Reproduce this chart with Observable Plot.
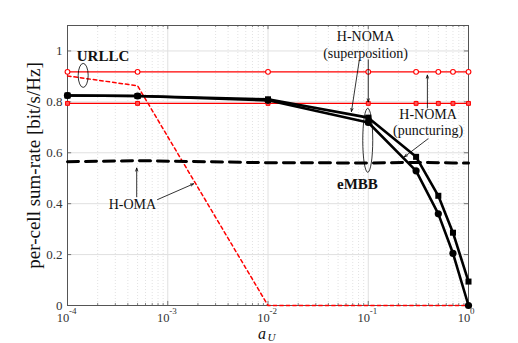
<!DOCTYPE html>
<html>
<head>
<meta charset="utf-8">
<script src="https://cdn.jsdelivr.net/npm/d3@7"></script>
<script src="https://cdn.jsdelivr.net/npm/@observablehq/plot@0.6"></script>
<style>
  html, body { margin: 0; padding: 0; background: #fff; }
</style>
</head>
<body>
<div id="chart"></div>
<script>
// ---- data ----
const aValues = [1e-4, 5e-4, 1e-2, 1e-1, 0.3, 0.5, 0.7, 1];
const urllcPuncturing    = [0.918, 0.918, 0.918, 0.918, 0.918, 0.918, 0.918, 0.918];
const urllcSuperposition = [0.794, 0.794, 0.794, 0.794, 0.794, 0.794, 0.794, 0.794];
const embbSuperposition  = [0.825, 0.823, 0.810, 0.738, 0.584, 0.431, 0.286, 0.094];
const embbPuncturing     = [0.825, 0.823, 0.806, 0.719, 0.529, 0.360, 0.205, 0.000];
const homaUrllc          = [0.902, 0.863, 0.000, 0.000, 0.000, 0.000, 0.000, 0.000];
const homaEmbb           = [0.565, 0.569, 0.561, 0.560, 0.562, 0.561, 0.560, 0.560];

const yTicks = [0, 0.2, 0.4, 0.6, 0.8, 1];
const yTickLabels = ["0", "0.2", "0.4", "0.6", "0.8", "1"];
const xTickExponents = [-4, -3, -2, -1, 0];
const yLabel = "per-cell sum-rate [bit/s/Hz]";

// annotation texts, anchored in data coordinates
const labels = [
  {a: 2.26e-4, v: 0.980, text: "URLLC", bold: true},
  {a: 0.094,   v: 1.026, text: "H-NOMA\n(superposition)", bold: false},
  {a: 0.395,   v: 0.722, text: "H-NOMA\n(puncturing)", bold: false},
  {a: 0.078,   v: 0.478, text: "eMBB", bold: true},
  {a: 4.44e-4, v: 0.400, text: "H-OMA", bold: false}
];
const arrows = [
  {a1: 0.0815, v1: 0.965, a2: 0.068,  v2: 0.762},
  {a1: 0.1,    v1: 0.965, a2: 0.1,    v2: 0.800},
  {a1: 0.389,  v1: 0.776, a2: 0.389,  v2: 0.905},
  {a1: 0.395,  v1: 0.655, a2: 0.229,  v2: 0.584},
  {a1: 4.9e-4, v1: 0.427, a2: 4.9e-4, v2: 0.540},
  {a1: 7.9e-4, v1: 0.416, a2: 1.81e-3, v2: 0.478}
];
const ellipses = [
  {a: 1.45e-4, v: 0.902, rx: 5, ry: 12},
  {a: 0.1,     v: 0.647, rx: 5, ry: 32}
];

// ---- tables for Plot ----
const rows = (ys) => aValues.map((a, i) => ({a, v: ys[i]}));
const minorX = [];
for (let e = -4; e < 0; e++) for (let m = 2; m <= 9; m++) minorX.push(m * 10 ** e);
const majorX = xTickExponents.map(e => 10 ** e);

const FONT = "'Liberation Serif', 'Times New Roman', serif";
const RED = "#ff0000";

const ellipseMark = (index, scales) => {
  const sx = scales.x, sy = scales.y;
  const g = d3.create("svg:g");
  for (const e of ellipses) {
    g.append("ellipse")
      .attr("cx", sx(e.a)).attr("cy", sy(e.v))
      .attr("rx", e.rx).attr("ry", e.ry)
      .attr("fill", "none").attr("stroke", "#000").attr("stroke-width", 0.8);
  }
  return g.node();
};

const chart = Plot.plot({
  width: 518,
  height: 343,
  marginLeft: 67,
  marginRight: 50,
  marginTop: 25,
  marginBottom: 38,
  style: {fontFamily: FONT, background: "#fff", overflow: "visible"},
  x: {type: "log", domain: [1e-4, 1], axis: null},
  y: {domain: [0, 1.1], axis: null},
  marks: [
    // grid
    Plot.ruleX(minorX, {x: d => d, stroke: "#cfcfcf", strokeWidth: 0.6, strokeDasharray: "1,2"}),
    Plot.ruleX(majorX, {x: d => d, stroke: "#e0e0e0", strokeWidth: 1}),
    Plot.ruleY(yTicks, {y: d => d, stroke: "#e0e0e0", strokeWidth: 1}),
    // inner ticks
    Plot.ruleX(minorX, {x: d => d, y1: 0, y2: 0.008, stroke: "#555", strokeWidth: 0.7}),
    Plot.ruleX(majorX, {x: d => d, y1: 0, y2: 0.016, stroke: "#555", strokeWidth: 0.8}),
    Plot.ruleX(minorX, {x: d => d, y1: 1.1, y2: 1.092, stroke: "#555", strokeWidth: 0.7}),
    Plot.ruleX(majorX, {x: d => d, y1: 1.1, y2: 1.084, stroke: "#555", strokeWidth: 0.8}),
    Plot.ruleY(yTicks, {y: d => d, x1: 1e-4, x2: 1.1e-4, stroke: "#555", strokeWidth: 0.8}),
    Plot.ruleY(yTicks, {y: d => d, x1: 1, x2: 1 / 1.1, stroke: "#555", strokeWidth: 0.8}),
    Plot.frame({stroke: "#555", strokeWidth: 1}),

    // URLLC lines
    Plot.line(rows(homaUrllc), {x: "a", y: "v", stroke: RED, strokeWidth: 1.5, strokeDasharray: "3.5,3"}),
    Plot.line(rows(urllcPuncturing), {x: "a", y: "v", stroke: RED, strokeWidth: 1.2}),
    Plot.dot(rows(urllcPuncturing), {x: "a", y: "v", r: 2.4, stroke: RED, strokeWidth: 1.1, fill: "#fff"}),
    Plot.line(rows(urllcSuperposition), {x: "a", y: "v", stroke: RED, strokeWidth: 1.2}),
    Plot.dot(rows(urllcSuperposition), {x: "a", y: "v", symbol: "square", r: 2.2, stroke: RED, strokeWidth: 1, fill: "#ff5555"}),

    // eMBB lines
    Plot.line(rows(homaEmbb), {x: "a", y: "v", stroke: "#000", strokeWidth: 3, strokeDasharray: "11,7"}),
    Plot.line(rows(embbPuncturing), {x: "a", y: "v", stroke: "#000", strokeWidth: 2.6}),
    Plot.line(rows(embbSuperposition), {x: "a", y: "v", stroke: "#000", strokeWidth: 2.6}),
    Plot.dot(rows(embbPuncturing), {x: "a", y: "v", r: 3.6, fill: "#000"}),
    Plot.dot(rows(embbSuperposition), {x: "a", y: "v", symbol: "square", r: 3.4, fill: "#000"}),

    // annotations
    Plot.arrow(arrows, {x1: "a1", y1: "v1", x2: "a2", y2: "v2", stroke: "#000", strokeWidth: 0.8, headLength: 6, headAngle: 40}),
    ellipseMark,
    Plot.text(labels.filter(d => !d.bold), {x: "a", y: "v", text: "text", fontSize: 14, lineHeight: 1.2, fill: "#111"}),
    Plot.text(labels.filter(d => d.bold), {x: "a", y: "v", text: "text", fontSize: 15, fontWeight: "bold", fill: "#111"}),

    // y tick labels
    Plot.text(yTicks, {x: 1e-4, y: d => d, text: (d, i) => yTickLabels[i], textAnchor: "end", dx: -5, fontSize: 13, fill: "#333"}),
    // x tick labels 10^e
    Plot.text(xTickExponents, {x: d => 10 ** d, y: 0, text: () => "10", dx: -4.5, dy: 12.5, fontSize: 12.5, fill: "#333"}),
    Plot.text(xTickExponents, {x: d => 10 ** d, y: 0, text: d => `${d}`, textAnchor: "start", dx: 1.5, dy: 6, fontSize: 9, fill: "#333"}),
    // axis labels
    Plot.text([yLabel], {frameAnchor: "left", text: d => d, rotate: -90, textAnchor: "middle", lineAnchor: "middle", dx: -34, fontSize: 19, fill: "#111"}),
    Plot.text(["a"], {frameAnchor: "bottom", text: d => d, fontStyle: "italic", fontSize: 16, textAnchor: "middle", lineAnchor: "middle", dx: -6, dy: 28.5, fill: "#111"}),
    Plot.text(["U"], {frameAnchor: "bottom", text: d => d, fontStyle: "italic", fontSize: 11, textAnchor: "middle", lineAnchor: "middle", dx: 3.5, dy: 31.5, fill: "#111"})
  ]
});

document.getElementById("chart").appendChild(chart);
</script>
</body>
</html>
